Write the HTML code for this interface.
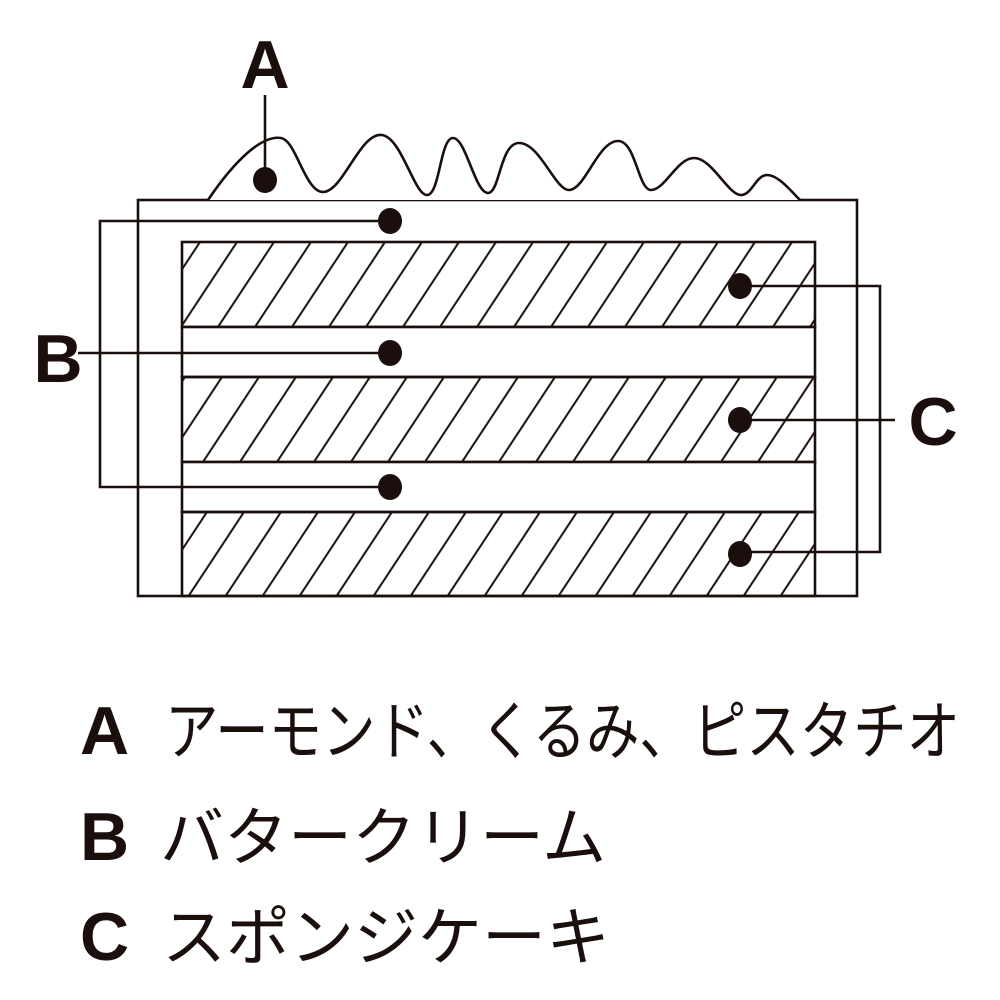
<!DOCTYPE html>
<html><head><meta charset="utf-8"><style>
html,body{margin:0;padding:0;background:#fff;}
svg{display:block}
</style></head><body>
<svg width="1000" height="1000" viewBox="0 0 1000 1000" xmlns="http://www.w3.org/2000/svg">
<defs>
<pattern id="h" patternUnits="userSpaceOnUse" width="37" height="82" patternTransform="translate(182,242) skewX(-33.4)">
<line x1="18" y1="-5" x2="18" y2="90" stroke="#1a0f0c" stroke-width="2.4"/>
</pattern>
</defs>
<g stroke="#1a0f0c" stroke-width="2.6" fill="none">
<rect x="138" y="200" width="719" height="396" fill="#fff"/>
<path d="M208,200 C235,160 262,135 281,138 C296,140 305,192 323,192 C343,192 360,132 382,135 C402,138 414,195 427,195 C440,195 440,138 453,138 C466,138 475,193 488,193 C500,193 500,143 519,143 C540,143 555,190 569,190 C585,190 598,141 618,141 C636,141 638,190 651,190 C665,190 677,158 694,158 C712,158 728,195 741,195 C752,195 756,175 767,175 C778,175 790,190 800,200" fill="#fff"/>
<rect x="182" y="242" width="633" height="85" fill="url(#h)"/>
<rect x="182" y="327" width="633" height="50" fill="#fff"/>
<rect x="182" y="377" width="633" height="85" fill="url(#h)"/>
<rect x="182" y="462" width="633" height="50" fill="#fff"/>
<rect x="182" y="512" width="633" height="84" fill="url(#h)"/>
<line x1="265" y1="95" x2="265" y2="180"/>
<polyline points="390,221 100,221 100,487 390,487"/>
<line x1="78" y1="353" x2="390" y2="353"/>
<polyline points="740,286 880,286 880,552 740,552"/>
<line x1="740" y1="420" x2="895" y2="420"/>
</g>
<g fill="#1a0f0c">
<ellipse cx="265" cy="180" rx="12" ry="13"/>
<ellipse cx="390" cy="221" rx="12" ry="13"/>
<ellipse cx="390" cy="353" rx="12" ry="13"/>
<ellipse cx="390" cy="487" rx="12" ry="13"/>
<ellipse cx="740" cy="286" rx="12" ry="13"/>
<ellipse cx="740" cy="420" rx="12" ry="13"/>
<ellipse cx="740" cy="554" rx="12" ry="13"/>
</g>
<g fill="#1a0f0c" font-family="'Liberation Sans',sans-serif" font-weight="bold" font-size="68">
<text x="265" y="88" text-anchor="middle">A</text>
<text x="58" y="382" text-anchor="middle">B</text>
<text x="933" y="445" text-anchor="middle">C</text>
<text x="80" y="754">A</text>
<text x="80" y="860">B</text>
<text x="80" y="960">C</text>
</g>
<g fill="#1a0f0c" font-family="'Liberation Sans','Noto Sans CJK JP',sans-serif" font-size="64">
<text x="165" y="754" textLength="795" lengthAdjust="spacingAndGlyphs">アーモンド、くるみ、ピスタチオ</text>
<text x="160" y="860">バタークリーム</text>
<text x="162" y="960">スポンジケーキ</text>
</g>
</svg>
</body></html>
